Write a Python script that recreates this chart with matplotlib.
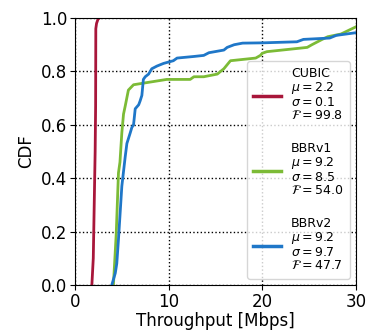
import matplotlib
matplotlib.use("Agg")
import matplotlib.pyplot as plt

# CDF curves (throughput in Mbps, cumulative fraction)
cubic_x = [1.8, 1.95, 2.05, 2.15, 2.2, 2.22, 2.3, 2.45, 2.6]
cubic_y = [0.0, 0.1, 0.3, 0.5, 0.67, 0.96, 0.98, 0.995, 1.0]

bbrv1_x = [4.1, 4.4, 4.64, 4.8, 5.0, 5.18, 5.36, 5.7, 6.25, 7.3, 9.8, 12.3, 12.7,
           13.75, 15.2, 15.9, 16.6, 19.3, 19.8, 20.0, 20.5, 24.8, 25.3, 26.4, 27.0,
           28.4, 30.0]
bbrv1_y = [0.0, 0.19, 0.42, 0.46, 0.57, 0.64, 0.67, 0.73, 0.75, 0.756, 0.77, 0.77, 0.78,
           0.78, 0.79, 0.81, 0.84, 0.85, 0.86, 0.868, 0.874, 0.89, 0.90, 0.92, 0.93,
           0.94, 0.967]

bbrv2_x = [3.93, 4.3, 4.46, 4.64, 5.0, 5.36, 5.54, 5.9, 6.07, 6.25, 6.43, 6.8, 6.96,
           7.14, 7.3, 7.5, 7.86, 8.2, 8.75, 9.46, 10.5, 10.9, 12.7, 13.75, 14.3, 15.9,
           16.25, 17.0, 17.9, 20.0, 23.7, 24.4, 27.2, 27.9, 30.0]
bbrv2_y = [0.0, 0.044, 0.08, 0.17, 0.37, 0.48, 0.53, 0.57, 0.59, 0.60, 0.66, 0.675, 0.69,
           0.71, 0.77, 0.78, 0.79, 0.81, 0.82, 0.83, 0.84, 0.85, 0.856, 0.86, 0.87, 0.88,
           0.89, 0.90, 0.906, 0.907, 0.911, 0.92, 0.925, 0.935, 0.945]

labels = [
    "CUBIC\n$\\mu=2.2$\n$\\sigma=0.1$\n$\\mathcal{F}=99.8$",
    "BBRv1\n$\\mu=9.2$\n$\\sigma=8.5$\n$\\mathcal{F}=54.0$",
    "BBRv2\n$\\mu=9.2$\n$\\sigma=9.7$\n$\\mathcal{F}=47.7$",
]
colors = ["#a8163a", "#7cbb36", "#1f77c8"]

plt.rcParams["font.size"] = 12

fig = plt.figure(figsize=(3.77, 3.34), dpi=100)
ax = fig.add_axes([0.199, 0.147, 0.745, 0.799])

series = [(cubic_x, cubic_y), (bbrv1_x, bbrv1_y), (bbrv2_x, bbrv2_y)]
for (xs, ys), lab, c in zip(series, labels, colors):
    ax.plot(xs, ys, color=c, lw=2, label=lab)

ax.set_xlim(0, 30)
ax.set_ylim(0, 1.0)
ax.set_xticks([0, 10, 20, 30])
ax.set_yticks([0.0, 0.2, 0.4, 0.6, 0.8, 1.0])
ax.tick_params(pad=2)
ax.grid(True, color="black", linestyle=":", linewidth=1)
ax.set_xlabel("Throughput [Mbps]", labelpad=1)
ax.set_ylabel("CDF", labelpad=4)

leg = ax.legend(loc="lower right", fontsize=9, labelspacing=1.6, handlelength=2.2,
                borderpad=0.5)
for t in leg.get_texts():
    t.set_linespacing(1.0)
for h in leg.get_lines():
    h.set_linewidth(2.5)

fig.savefig("out.png", dpi=100)
